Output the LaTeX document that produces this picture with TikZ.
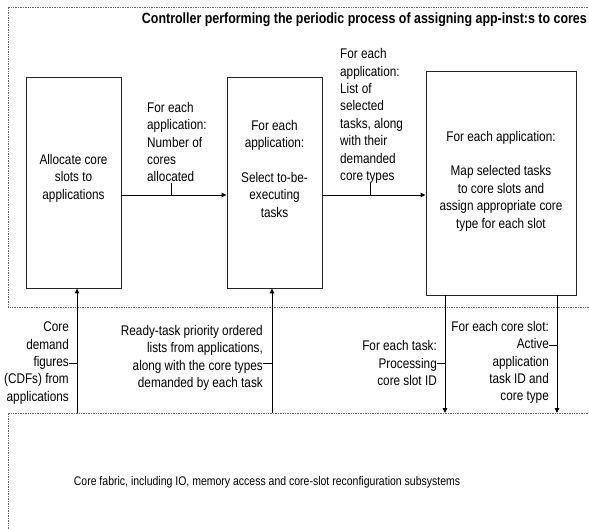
\documentclass[tikz,border=0pt]{standalone}
\usepackage{fontspec}
\setmainfont{Liberation Sans}[FakeStretch=0.84]
\usetikzlibrary{arrows.meta}
\begin{document}
\begin{tikzpicture}[x=1pt,y=-1pt,
  txt/.style={inner sep=0pt, font=\fontsize{14}{17.4}\selectfont},
  blk/.style={draw=black!85, line width=0.9pt, inner sep=0pt},
  arr/.style={draw=black, line width=0.9pt, -{Triangle[length=5pt,width=4.5pt]}},
  frame/.style={draw=black!60, line width=0.7pt, densely dotted},
  tick/.style={draw=black, line width=0.8pt}]
\useasboundingbox (0,0) rectangle (589,529);
% frames
\draw[frame] (600,7) -- (8,7) -- (8,307) -- (600,307);
\draw[frame] (600,413) -- (8,413) -- (8,540);
\node[txt, font=\fontsize{14.8}{17.4}\selectfont\bfseries, anchor=east] (title) at (587,20) {Controller performing the periodic process of assigning app-inst:s to cores};
% boxes
\node[blk, minimum width=95pt, minimum height=211pt] (b1) at (73.5,182.5) {};
\node[blk, minimum width=95pt, minimum height=211pt] (b2) at (274.5,182.5) {};
\node[blk, minimum width=150pt, minimum height=224pt] (b3) at (501,183) {};
\node[txt, align=center] (b1t) at (73.5,178) {Allocate core\\slots to\\applications};
\node[txt, align=center] (b2t) at (274.5,168.5) {For each\\application:\\[17.4pt]Select to-be-\\executing\\tasks};
\node[txt, align=center] (b3t) at (501,181) {For each application:\\[17.4pt]Map selected tasks\\to core slots and\\assign appropriate core\\type for each slot};
% coordinates
\coordinate (h) at (0,195);
\coordinate (f1) at (77,413);
\coordinate (f2) at (272,413);
\coordinate (f3) at (445,413);
\coordinate (f4) at (557,413);
\coordinate (t1) at (171,195);
\coordinate (t2) at (370,195);
\coordinate (y363) at (0,363);
\coordinate (y345) at (0,345);
% horizontal arrows
\draw[arr] (b1.east |- h) -- (b2.west |- h);
\draw[arr] (b2.east |- h) -- (b3.west |- h);
% vertical arrows
\draw[arr] (f1) -- (f1 |- b1.south);
\draw[arr] (f2) -- (f2 |- b2.south);
\draw[arr] (f3 |- b3.south) -- (f3);
\draw[arr] (f4 |- b3.south) -- (f4);
% labels
\node[txt, align=left, anchor=west] (l1) at (147,142) {For each\\application:\\Number of\\cores\\allocated};
\draw[tick] (t1) -- ++(0,-12);
\node[txt, align=left, anchor=west] (l2) at (340,116) {For each\\application:\\List of\\selected\\tasks, along\\with their\\demanded\\core types};
\draw[tick] (t2) -- ++(0,-12);
\node[txt, align=right, anchor=east] (l3) at (69,363) {Core\\demand\\figures\\(CDFs) from\\applications};
\draw[tick] (l3.east) -- (l3.east -| f1);
\node[txt, align=right, anchor=east] (l4) at (263,358) {Ready-task priority ordered\\lists from applications,\\along with the core types\\demanded by each task};
\draw[tick] (l4.east |- y363) -- (f2 |- y363);
\node[txt, align=right, anchor=east] (l5) at (437,363) {For each task:\\Processing\\core slot ID};
\draw[tick] (l5.east) -- (l5.east -| f3);
\node[txt, align=right, anchor=east] (l6) at (549,362.5) {For each core slot:\\Active\\application\\task ID and\\core type};
\draw[tick] (l6.east |- y345) -- (f4 |- y345);
\node[txt, font=\fontsize{12.5}{15}\selectfont] (ft) at (267,482) {Core fabric, including IO, memory access and core-slot reconfiguration subsystems};
\end{tikzpicture}
\end{document}
